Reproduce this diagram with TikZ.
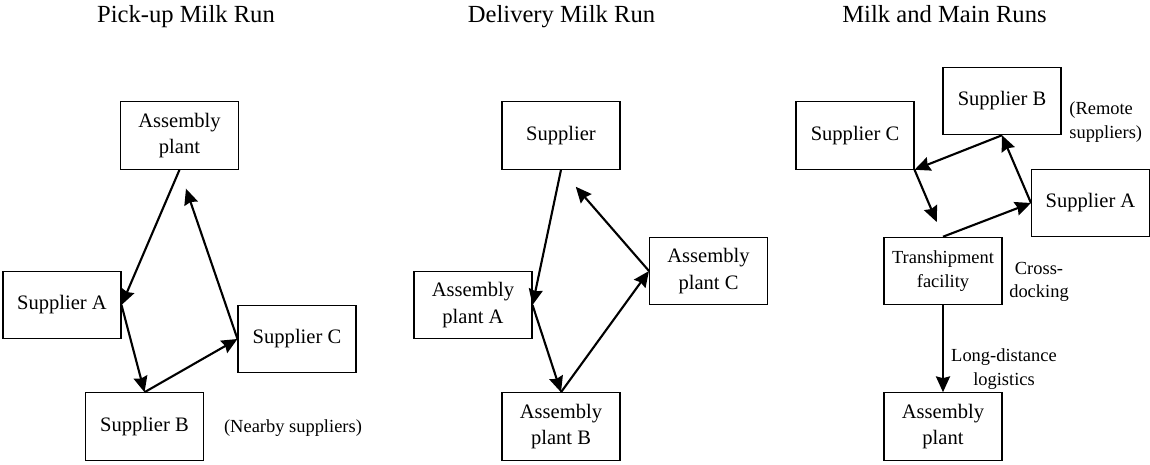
\documentclass[tikz,border=0pt]{standalone}
\usepackage{fontspec}
\setmainfont{Liberation Serif}
\usetikzlibrary{arrows.meta}

\begin{document}
\begin{tikzpicture}[x=0.02cm, y=-0.02cm, >={Stealth[length=9pt, width=8pt, inset=1pt]},
    box/.style={draw, line width=0.6pt, minimum width=2.36cm, minimum height=1.35cm,
      align=center, inner sep=1pt, font=\fontsize{11.7}{15}\selectfont},
    note/.style={align=center, inner sep=0pt, font=\fontsize{10.5}{13.5}\selectfont},
    heading/.style={anchor=base, inner sep=0pt, font=\fontsize{14}{16}\selectfont},
    run/.style={->, line width=1.2pt}]
  \useasboundingbox (0,0) rectangle (1150,465);

  % pick-up milk run
  \node[heading] (t1) at (186,23) {Pick-up Milk Run};
  \node[box] (ap1) at (179.5,135.5) {Assembly\\plant};
  \node[box] (sa1) at (62,305) {Supplier A};
  \node[box] (sc1) at (297,339) {Supplier C};
  \node[box] (sb1) at (144.5,426.5) {Supplier B};
  \node[note] (near) at (293,428) {(Nearby suppliers)};

  \path[run] (ap1.south) edge (sa1.east)
             (sa1.east) edge (sb1.north)
             (sb1.north) edge (sc1.west)
             (sc1.west) edge [shorten >=0.4cm] (ap1.south);

  % delivery milk run
  \node[heading] (t2) at (561.5,23) {Delivery Milk Run};
  \node[box] (sup2) at (561,135.5) {Supplier};
  \node[box] (pa2) at (473,305) {Assembly\\plant A};
  \node[box] (pc2) at (708.5,271) {Assembly\\plant C};
  \node[box] (pb2) at (561,426.5) {Assembly\\plant B};

  \path[run] (sup2.south) edge (pa2.east)
             (pa2.east) edge (pb2.north)
             (pb2.north) edge (pc2.west)
             (pc2.west) edge [shorten >=0.45cm] (sup2.south);

  % milk and main runs
  \node[heading] (t3) at (944.5,23) {Milk and Main Runs};
  \node[box] (sc3) at (855,135.5) {Supplier C};
  \node[box] (sb3) at (1002,101) {Supplier B};
  \node[box] (sa3) at (1090.5,203) {Supplier A};
  \node[box, font=\fontsize{10.5}{13.6}\selectfont] (tf3) at (943,271) {Transhipment\\facility};
  \node[box] (ap3) at (943,426.5) {Assembly\\plant};
  \node[note, align=left, anchor=west] (remote) at (1069,122) {(Remote\\suppliers)};
  \node[note] (cross) at (1039,282) {Cross-\\docking};
  \node[note] (long) at (1004,369) {Long-distance\\logistics};

  \path[run] (sb3.south) edge (sc3.south east)
             (sc3.south east) edge [shorten >=0.32cm] (tf3.north)
             (tf3.north) edge (sa3.west)
             (sa3.west) edge (sb3.south)
             (tf3.south) edge (ap3.north);
\end{tikzpicture}
\end{document}
